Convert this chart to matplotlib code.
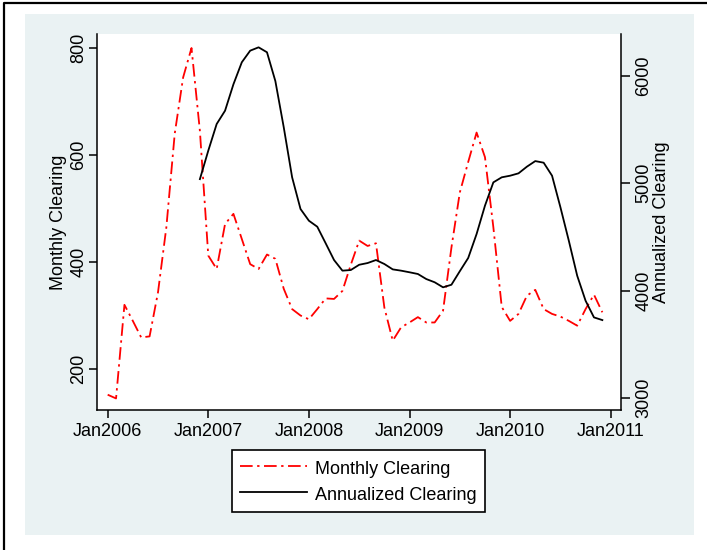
import matplotlib
matplotlib.use("Agg")
import matplotlib.pyplot as plt
from matplotlib.patches import Rectangle
from matplotlib.lines import Line2D

plt.rcParams['font.family'] = ['Liberation Sans', 'DejaVu Sans']

# monthly clearing, Jan2006 - Dec2010
monthly = [152, 145, 320, 290, 259, 261, 343, 465, 640, 745, 800, 645,
           412, 387, 471, 490, 443, 396, 387, 414, 406, 350, 312, 300,
           293, 312, 332, 331, 346, 395, 440, 430, 435, 315, 253, 278,
           287, 297, 287, 287, 309, 427, 530, 587, 642, 596, 465, 316,
           290, 303, 337, 348, 312, 303, 298, 290, 281, 312, 339, 306]
# annualized clearing, Dec2006 - Dec2010
annualized = [5037,
              5302, 5550, 5674, 5920, 6125, 6233, 6264, 6218, 5950, 5520, 5054, 4759,
              4650, 4594, 4440, 4284, 4185, 4191, 4240, 4256, 4284, 4247, 4197, 4185,
              4170, 4154, 4107, 4077, 4030, 4054, 4180, 4303, 4526, 4790, 5007, 5054,
              5069, 5091, 5153, 5205, 5190, 5069, 4775, 4464, 4138, 3905, 3750, 3725]
years = [2006, 2007, 2008, 2009, 2010, 2011]
year_labels = ['Jan2006', 'Jan2007', 'Jan2008', 'Jan2009', 'Jan2010', 'Jan2011']
left_ticks = [200, 400, 600, 800]
right_ticks = [3000, 4000, 5000, 6000]

t_monthly = [2006 + i / 12 for i in range(len(monthly))]
t_annual = [2006 + (11 + i) / 12 for i in range(len(annualized))]

W, H = 707, 550
fig = plt.figure(figsize=(W / 100, H / 100), dpi=100)
fig.patch.set_facecolor('white')

# light panel and outer frame
fig.patches.append(Rectangle((25 / W, 1 - 535 / H), 669 / W, 521 / H,
                             transform=fig.transFigure, facecolor='#eaf2f3',
                             edgecolor='none', zorder=-5))
fig.lines.append(Line2D([4 / W, 4 / W, 1.1], [-0.1, 1 - 3 / H, 1 - 3 / H],
                        transform=fig.transFigure, color='black', lw=1.6))

ax = fig.add_axes([97 / W, 1 - 410 / H, 524 / W, 376 / H])
ax.set_facecolor('white')
ax2 = ax.twinx()

l1, = ax.plot(t_monthly, monthly, color='red', lw=1.3,
              linestyle=(0, (7, 2.5, 1.3, 2.5)), label='Monthly Clearing')
l2, = ax2.plot(t_annual, annualized, color='black', lw=1.3,
               label='Annualized Clearing')

ax.set_xlim(2005.894, 2011.102)
ax.set_ylim(123.4, 826.2)
ax2.set_ylim(2888, 6388)

ax.set_xticks(years)
ax.set_xticklabels(year_labels)
ax.set_yticks(left_ticks)
ax2.set_yticks(right_ticks)

for a in (ax, ax2):
    a.spines['top'].set_visible(False)
    for s in a.spines.values():
        s.set_linewidth(1.1)
ax.spines['right'].set_visible(False)
ax2.spines['left'].set_visible(False)
ax2.spines['bottom'].set_visible(False)

ax.tick_params(axis='x', length=5.5, width=1.1, labelsize=13, pad=4)
ax.tick_params(axis='y', length=6, width=1.1, labelsize=13, pad=1)
ax2.tick_params(axis='y', length=6.5, width=1.1, labelsize=13, pad=4)
for lbl in ax.get_yticklabels():
    lbl.set_rotation(90)
    lbl.set_va('center')
for lbl in ax2.get_yticklabels():
    lbl.set_rotation(90)
    lbl.set_va('center')

ax.set_ylabel('Monthly Clearing', fontsize=13)
ax.yaxis.set_label_coords(-0.057, 0.5)
ax2.set_ylabel('Annualized Clearing', fontsize=13)
ax2.yaxis.set_label_coords(1.061, 0.5)

leg = fig.legend([l1, l2], ['Monthly Clearing', 'Annualized Clearing'],
                 loc='upper center', bbox_to_anchor=(358.5 / W, 1 - 450 / H),
                 bbox_transform=fig.transFigure, fontsize=13, frameon=True,
                 fancybox=False, handlelength=3.7, handletextpad=0.45,
                 handleheight=1.22, labelspacing=0.36, borderpad=0.47,
                 borderaxespad=0)
leg.get_frame().set_edgecolor('black')
leg.get_frame().set_linewidth(1.2)
leg.get_frame().set_alpha(1)

fig.savefig('out.png', dpi=100)
